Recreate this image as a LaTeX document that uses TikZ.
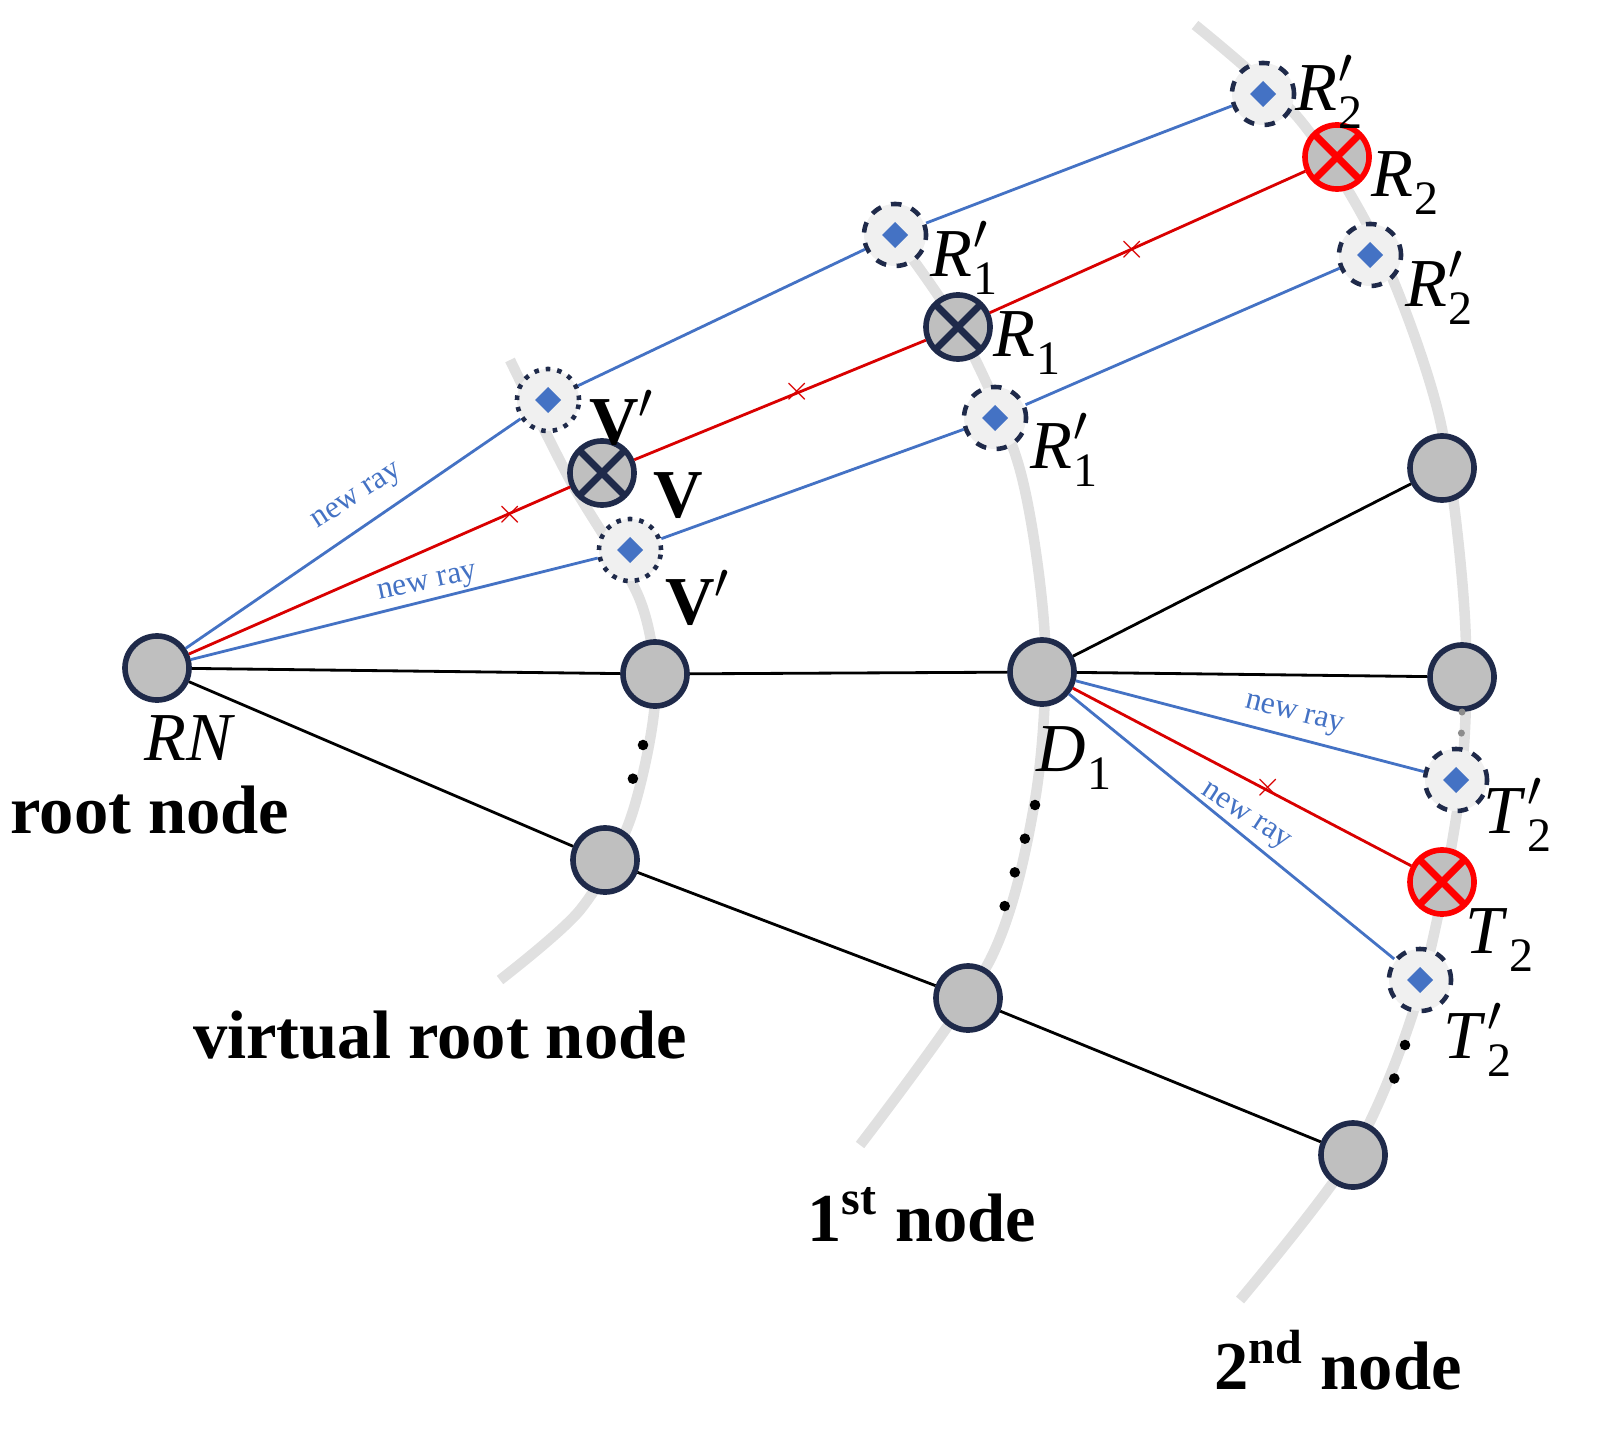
\documentclass[tikz,border=0pt]{standalone}
\usepackage{fontspec}
\setmainfont{Liberation Serif}
\definecolor{rayblue}{HTML}{4472C4}
\definecolor{navy}{HTML}{1F2A4A}
\newcommand\lbl[3]{\textit{#1}\kern0.5pt$^{#2}_{\mathrm{#3}}$}
\begin{document}
\begin{tikzpicture}[x=0.01cm,y=-0.01cm,
  nd/.style={circle,draw=navy,line width=1.6pt,fill=black!25,minimum size=0.64cm,inner sep=0pt},
  xnd/.style={nd,path picture={\draw[line width=2pt] ([shift={(-1pt,1pt)}]path picture bounding box.north west)--([shift={(1pt,-1pt)}]path picture bounding box.south east)
      ([shift={(1pt,1pt)}]path picture bounding box.north east)--([shift={(-1pt,-1pt)}]path picture bounding box.south west);}},
  rnd/.style={xnd,draw=red},
  vn/.style={circle,draw=navy,line width=1.3pt,fill=black!6,minimum size=0.62cm,inner sep=0pt,
      path picture={\fill[rayblue] (path picture bounding box.center) +(0,0.13cm) -- +(0.13cm,0) -- +(0,-0.13cm) -- +(-0.13cm,0) -- cycle;}},
  dn/.style={vn,dashed},
  on/.style={vn,dotted},
  arcl/.style={black!12,line width=3pt},
  bl/.style={rayblue,line width=0.8pt},
  rl/.style={red!85!black,line width=0.8pt},
  kl/.style={black,line width=0.8pt},
  xm/.style={red!85!black,font=\bfseries,inner sep=0pt},
  nr/.style={rayblue,font=\small,inner sep=1pt},
  dts/.style={line width=3pt,dash pattern=on 0pt off 10pt,line cap=round},
  lab/.style={font=\fontsize{19.5}{22}\selectfont},
  big/.style={font=\fontsize{19.5}{22}\selectfont\bfseries}]
\useasboundingbox (0,0) rectangle (1604,1443);
% arcs
\draw[arcl] plot[smooth] coordinates {(510,360) (570,480) (640,600) (655,700) (630,820) (580,910) (500,980)};
\draw[arcl] plot[smooth] coordinates {(880,215) (960,330) (1020,470) (1045,640) (1035,800) (990,960) (860,1145)};
\draw[arcl] plot[smooth] coordinates {(1195,25) (1300,120) (1380,250) (1440,420) (1465,620) (1460,790) (1420,990) (1355,1150) (1240,1300)};
% nodes
\node[nd] (rn) at (157,668) {};
\node[nd] (v1) at (655,674) {};
\node[nd] (v2) at (605,860) {};
\node[nd] (d1) at (1042,672) {};
\node[nd] (n1b) at (968,998) {};
\node[nd] (n2a) at (1442,468) {};
\node[nd] (n2b) at (1462,677) {};
\node[nd] (n2c) at (1353,1155) {};
\node[xnd] (v) at (602,473) {};
\node[xnd] (r1) at (958,327) {};
\node[rnd] (r2) at (1337,157) {};
\node[rnd] (t2) at (1442,882) {};
\node[on] (vpa) at (548,400) {};
\node[on] (vpb) at (630,550) {};
\node[dn] (r1pa) at (895,235) {};
\node[dn] (r1pb) at (995,418) {};
\node[dn] (r2pa) at (1263,94) {};
\node[dn] (r2pb) at (1370,255) {};
\node[dn] (t2pa) at (1456,780) {};
\node[dn] (t2pb) at (1420,980) {};
% black lines
\draw[kl] (rn)--(v1) (v1)--(d1) (d1)--(n2b) (d1)--(n2a) (rn)--(v2) (v2)--(n1b) (n1b)--(n2c);
% red rays
\draw[rl] (rn)--(v) (v)--(r1) (r1)--(r2) (d1)--(t2);
\node[xm] (x1) at (510,515) {$\times$};
\node[xm] (x2) at (797,392) {$\times$};
\node[xm] (x3) at (1132,250) {$\times$};
\node[xm] (x4) at (1268,788) {$\times$};
% blue rays
\draw[bl] (rn)--(vpa) (vpa)--(r1pa) (r1pa)--(r2pa);
\draw[bl] (rn)--(vpb) (vpb)--(r1pb) (r1pb)--(r2pb);
\draw[bl] (d1)--(t2pa) (d1)--(t2pb);
\node[nr,rotate=33] (nr1) at (358,498) {new ray};
\node[nr,rotate=12] (nr2) at (428,585) {new ray};
\node[nr,rotate=-14] (nr3) at (1294,716) {new ray};
\node[nr,rotate=-33] (nr4) at (1245,818) {new ray};
% dots along the arcs
\draw[dts] (643,745) -- (628,795);
\draw[dts] (1035,805) -- (1002,915);
\draw[dts,black!45,line width=2pt,dash pattern=on 0pt off 6pt] (1462,712) -- (1461,745);
\draw[dts] (1405,1045) -- (1388,1098);
% labels
\node[lab] (lrn) at (190,738) {\textit{RN}};
\node[lab] (ld1) at (1075,758) {\lbl{D}{}{1}};
\node[lab] (lv) at (678,496) {\textbf{V}};
\node[lab] (lvpa) at (622,418) {\textbf{V}$'$};
\node[lab] (lvpb) at (698,598) {\textbf{V}$'$};
\node[lab] (lr1) at (1028,343) {\lbl{R}{}{1}};
\node[lab] (lr1pa) at (965,258) {\lbl{R}{\prime}{1}};
\node[lab] (lr1pb) at (1065,450) {\lbl{R}{\prime}{1}};
\node[lab] (lr2) at (1406,183) {\lbl{R}{}{2}};
\node[lab] (lr2pa) at (1330,92) {\lbl{R}{\prime}{2}};
\node[lab] (lr2pb) at (1440,288) {\lbl{R}{\prime}{2}};
\node[lab] (lt2) at (1500,940) {\lbl{T}{}{2}};
\node[lab] (lt2pa) at (1518,815) {\lbl{T}{\prime}{2}};
\node[lab] (lt2pb) at (1478,1040) {\lbl{T}{\prime}{2}};
\node[big] (lroot) at (150,810) {root node};
\node[big] (lvirt) at (440,1035) {virtual root node};
\node[big] (lfirst) at (922,1215) {1\textsuperscript{st} node};
\node[big] (lsecond) at (1338,1360) {2\textsuperscript{nd} node};
\end{tikzpicture}
\end{document}
